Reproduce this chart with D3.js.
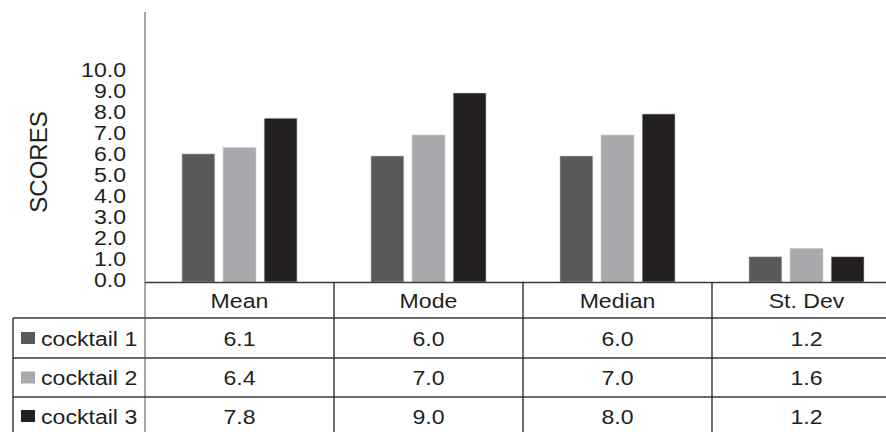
<!DOCTYPE html>
<html>
<head>
<meta charset="utf-8">
<script src="https://cdn.jsdelivr.net/npm/d3@7"></script>
<style>
  body { margin: 0; background: #fff; }
  svg { display: block; font-family: "Liberation Sans", Arial, sans-serif; }
</style>
</head>
<body>
<div id="chart"></div>
<script>
var categories = ["Mean", "Mode", "Median", "St. Dev"];
var seriesNames = ["cocktail 1", "cocktail 2", "cocktail 3"];
var cocktail1 = [6.1, 6.0, 6.0, 1.2];
var cocktail2 = [6.4, 7.0, 7.0, 1.6];
var cocktail3 = [7.8, 9.0, 8.0, 1.2];
var tickValues = [0, 1, 2, 3, 4, 5, 6, 7, 8, 9, 10];
var colors = ["#58595b", "#a7a9ac", "#231f20"];

var series = [cocktail1, cocktail2, cocktail3];

var W = 886, H = 432;
var axisX = 145, base = 282, tableLeft = 13;
var rowLines = [282, 318, 358, 397, 436];
var stretch = 1.1;

var svg = d3.select("#chart").append("svg")
    .attr("width", W).attr("height", H);

var x = d3.scaleBand().domain(categories).range([axisX, axisX + 4 * 189]);
var x1 = d3.scaleBand().domain(d3.range(series.length))
    .range([0, x.bandwidth()]).paddingInner(0.2).paddingOuter(0.9);
var y = d3.scaleLinear().domain([0, 10]).range([base, base - 210]);

// text drawn slightly wide, like the original
var txt = function (tx, ty, str, anchor, size) {
    return svg.append("text")
        .attr("transform", "translate(" + tx + "," + ty + ") scale(" + stretch + ",1)")
        .attr("dy", "0.36em")
        .attr("text-anchor", anchor)
        .attr("font-size", size)
        .attr("fill", "#231f20")
        .text(str);
};

// bars
categories.forEach(function (c, ci) {
    series.forEach(function (s, si) {
        svg.append("rect")
            .attr("x", x(c) + x1(si))
            .attr("y", y(s[ci]))
            .attr("width", x1.bandwidth())
            .attr("height", base - y(s[ci]))
            .attr("fill", colors[si])
            .attr("stroke", "#c8c8c8")
            .attr("stroke-width", 0.6);
    });
});

// y axis labels
var yAxis = d3.axisLeft(y).tickValues(tickValues).tickSize(0).tickPadding(0)
    .tickFormat(d3.format(".1f"));
var g = svg.append("g").attr("transform", "translate(" + (axisX - 19) + ",0)").call(yAxis);
g.select(".domain").remove();
g.selectAll("text").attr("font-size", 21).attr("fill", "#231f20")
    .attr("font-family", "Liberation Sans, Arial, sans-serif")
    .attr("transform", "scale(" + stretch + ",1)")
    .attr("dy", "0.22em");

svg.append("text")
    .attr("transform", "translate(47,162) rotate(-90)")
    .attr("text-anchor", "middle")
    .attr("font-size", 24)
    .attr("fill", "#231f20")
    .text("SCORES");

// table lines
var line = function (x1_, y1_, x2_, y2_, col, w) {
    svg.append("line").attr("x1", x1_).attr("y1", y1_).attr("x2", x2_).attr("y2", y2_)
        .attr("stroke", col).attr("stroke-width", w);
};
line(axisX, 12, axisX, H, "#8a8a8a", 1.5);
line(axisX, base + 0.5, W, base + 0.5, "#3a3a3a", 1.3);
rowLines.slice(1).forEach(function (ry) {
    line(tableLeft, ry, W, ry, "#3a3a3a", 1.3);
});
line(tableLeft, rowLines[1], tableLeft, H, "#231f20", 1.3);
categories.slice(1).forEach(function (c) {
    line(x(c), base, x(c), H, "#231f20", 1.3);
});

// header
categories.forEach(function (c) {
    txt(x(c) + x.bandwidth() / 2, (rowLines[0] + rowLines[1]) / 2, c, "middle", 21);
});

// rows
series.forEach(function (s, si) {
    var cy = (rowLines[si + 1] + rowLines[si + 2]) / 2;
    if (si === 2) cy = rowLines[si + 1] + 19;
    svg.append("rect")
        .attr("x", 21).attr("y", cy - 6)
        .attr("width", 14).attr("height", 12)
        .attr("fill", colors[si]);
    txt(41, cy, seriesNames[si], "start", 21);
    categories.forEach(function (c, ci) {
        txt(x(c) + x.bandwidth() / 2, cy, d3.format(".1f")(s[ci]), "middle", 21);
    });
});
</script>
</body>
</html>
